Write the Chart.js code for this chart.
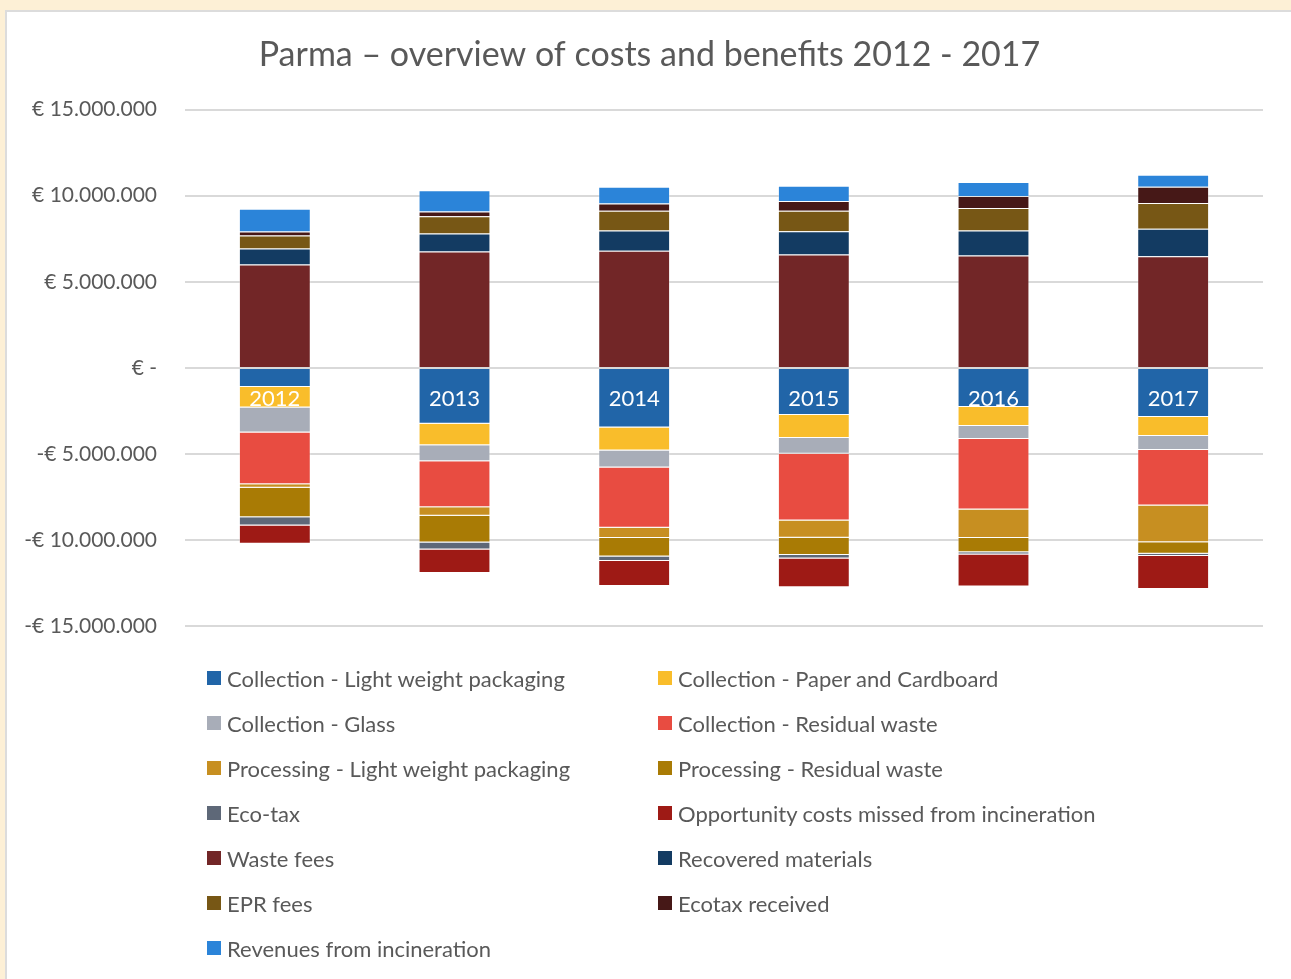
<!DOCTYPE html>
<html>
<head>
<meta charset="utf-8">
<script src="https://cdn.jsdelivr.net/npm/chart.js@4.4.0/dist/chart.umd.min.js"></script>
<style>
  html, body { margin: 0; padding: 0; }
  body { width: 1291px; height: 979px; overflow: hidden; background: #fdf0d6; position: relative; font-family: Lato, "Open Sans", sans-serif; }
  #panel { position: absolute; left: 5px; top: 10px; width: 1320px; height: 1000px; background: #fff; border: 2px solid #dcdcdc; box-sizing: border-box; }
  #wrap { position: absolute; left: 0; top: 0; width: 1291px; height: 667px; }
  #legend { position: absolute; left: 0; top: 0; width: 1291px; height: 979px; pointer-events: none; }
  .item { position: absolute; display: flex; align-items: center; height: 30px; font-size: 22px; color: #595959; white-space: nowrap; }
  .box { width: 14px; height: 14px; margin-right: 6px; flex: none; }
</style>
</head>
<body>
<div id="panel"></div>
<div id="wrap"><canvas id="chart" width="1291" height="667"></canvas></div>
<div id="legend"></div>
<script>
// Categories
const years = ['2012', '2013', '2014', '2015', '2016', '2017'];

// Costs (negative, stacked downward from zero)
const collectionLwp      = [-1100000, -3240000, -3450000, -2730000, -2270000, -2850000];
const collectionPaper    = [-1200000, -1240000, -1340000, -1340000, -1100000, -1100000];
const collectionGlass    = [-1450000,  -930000,  -990000,  -910000,  -760000,  -810000];
const collectionResidual = [-3000000, -2670000, -3490000, -3870000, -4090000, -3220000];
const processingLwp      = [ -210000,  -500000,  -600000, -1010000, -1650000, -2130000];
const processingResidual = [-1700000, -1550000, -1080000,  -990000,  -830000,  -680000];
const ecoTax             = [ -490000,  -410000,  -260000,  -210000,  -130000,  -120000];
const opportunityCosts   = [-1050000, -1360000, -1450000, -1670000, -1860000, -1920000];

// Benefits (positive, stacked upward from zero)
const wasteFees          = [6000000, 6760000, 6800000, 6590000, 6530000, 6490000];
const recoveredMaterials = [ 930000, 1050000, 1180000, 1340000, 1450000, 1590000];
const eprFees            = [ 760000, 1000000, 1150000, 1200000, 1300000, 1490000];
const ecotaxReceived     = [ 230000,  270000,  420000,  560000,  700000,  950000];
const revenuesIncin      = [1320000, 1240000,  970000,  890000,  810000,  700000];

// Axis ticks
const yTicks = [15000000, 10000000, 5000000, 0, -5000000, -10000000, -15000000];

const chartTitle = 'Parma – overview of costs and benefits 2012 - 2017';

const series = [
  ['Collection - Light weight packaging', collectionLwp, '#2165a8'],
  ['Collection - Paper and Cardboard', collectionPaper, '#f9bd2b'],
  ['Collection - Glass', collectionGlass, '#a8adb8'],
  ['Collection - Residual waste', collectionResidual, '#e84c41'],
  ['Processing - Light weight packaging', processingLwp, '#c78f21'],
  ['Processing - Residual waste', processingResidual, '#a97b05'],
  ['Eco-tax', ecoTax, '#5e6878'],
  ['Opportunity costs missed from incineration', opportunityCosts, '#9e1a15'],
  ['Waste fees', wasteFees, '#722627'],
  ['Recovered materials', recoveredMaterials, '#133b62'],
  ['EPR fees', eprFees, '#775715'],
  ['Ecotax received', ecotaxReceived, '#461817'],
  ['Revenues from incineration', revenuesIncin, '#2b84d9']
];

function euro(v) {
  if (v === 0) return '€ -';
  const s = Math.abs(v).toString().replace(/\B(?=(\d{3})+(?!\d))/g, '.');
  return (v < 0 ? '-€ ' : '€ ') + s;
}

// Title centred over the whole panel
const panelTitle = {
  id: 'panelTitle',
  afterDraw(chart) {
    const { ctx } = chart;
    ctx.save();
    ctx.fillStyle = '#595959';
    ctx.font = '34px Lato';
    ctx.textAlign = 'center';
    ctx.textBaseline = 'middle';
    ctx.fillText(chartTitle, 649.5, 55);
    ctx.restore();
  }
};

// Year labels written just below the zero line, inside the bars
const yearLabels = {
  id: 'yearLabels',
  afterDatasetsDraw(chart) {
    const { ctx, scales: { x, y } } = chart;
    ctx.save();
    ctx.fillStyle = '#ffffff';
    ctx.font = '22px Lato';
    ctx.textAlign = 'center';
    ctx.textBaseline = 'middle';
    const y0 = y.getPixelForValue(0) + 31;
    years.forEach((yr, i) => ctx.fillText(yr, x.getPixelForValue(i), y0));
    ctx.restore();
  }
};

const chart = new Chart(document.getElementById('chart'), {
  type: 'bar',
  data: {
    labels: years,
    datasets: series.map(([label, data, color]) => ({
      label, data,
      backgroundColor: color,
      borderColor: 'rgba(255,255,255,0.3)',
      borderWidth: 1,
      barPercentage: 0.4,
      categoryPercentage: 1.0
    }))
  },
  options: {
    responsive: false,
    animation: false,
    devicePixelRatio: 1,
    layout: { padding: { left: 0, right: 28, top: 109.5, bottom: 24 } },
    plugins: {
      legend: { display: false },
      tooltip: { enabled: false },
      title: { display: false }
    },
    scales: {
      x: { stacked: true, display: false, offset: true },
      y: {
        stacked: true,
        min: -15000000,
        max: 15000000,
        afterBuildTicks(scale) { scale.ticks = yTicks.map(v => ({ value: v })); },
        afterFit(scale) { scale.width = 185; },
        border: { display: false },
        grid: { color: '#d9d9d9', lineWidth: 2, drawTicks: false },
        ticks: {
          padding: 28,
          color: '#595959',
          font: { family: 'Lato', size: 21 },
          callback: v => euro(v)
        }
      }
    }
  },
  plugins: [yearLabels, panelTitle]
});

// Two-column legend below the chart
const legend = document.getElementById('legend');
chart.data.datasets.forEach((ds, i) => {
  const col = i % 2, row = Math.floor(i / 2);
  const el = document.createElement('div');
  el.className = 'item';
  el.style.left = (col ? 658 : 207) + 'px';
  el.style.top = (678 + 45 * row - 15) + 'px';
  const box = document.createElement('span');
  box.className = 'box';
  box.style.background = ds.backgroundColor;
  const txt = document.createElement('span');
  txt.textContent = ds.label;
  el.appendChild(box); el.appendChild(txt);
  legend.appendChild(el);
});
</script>
</body>
</html>
